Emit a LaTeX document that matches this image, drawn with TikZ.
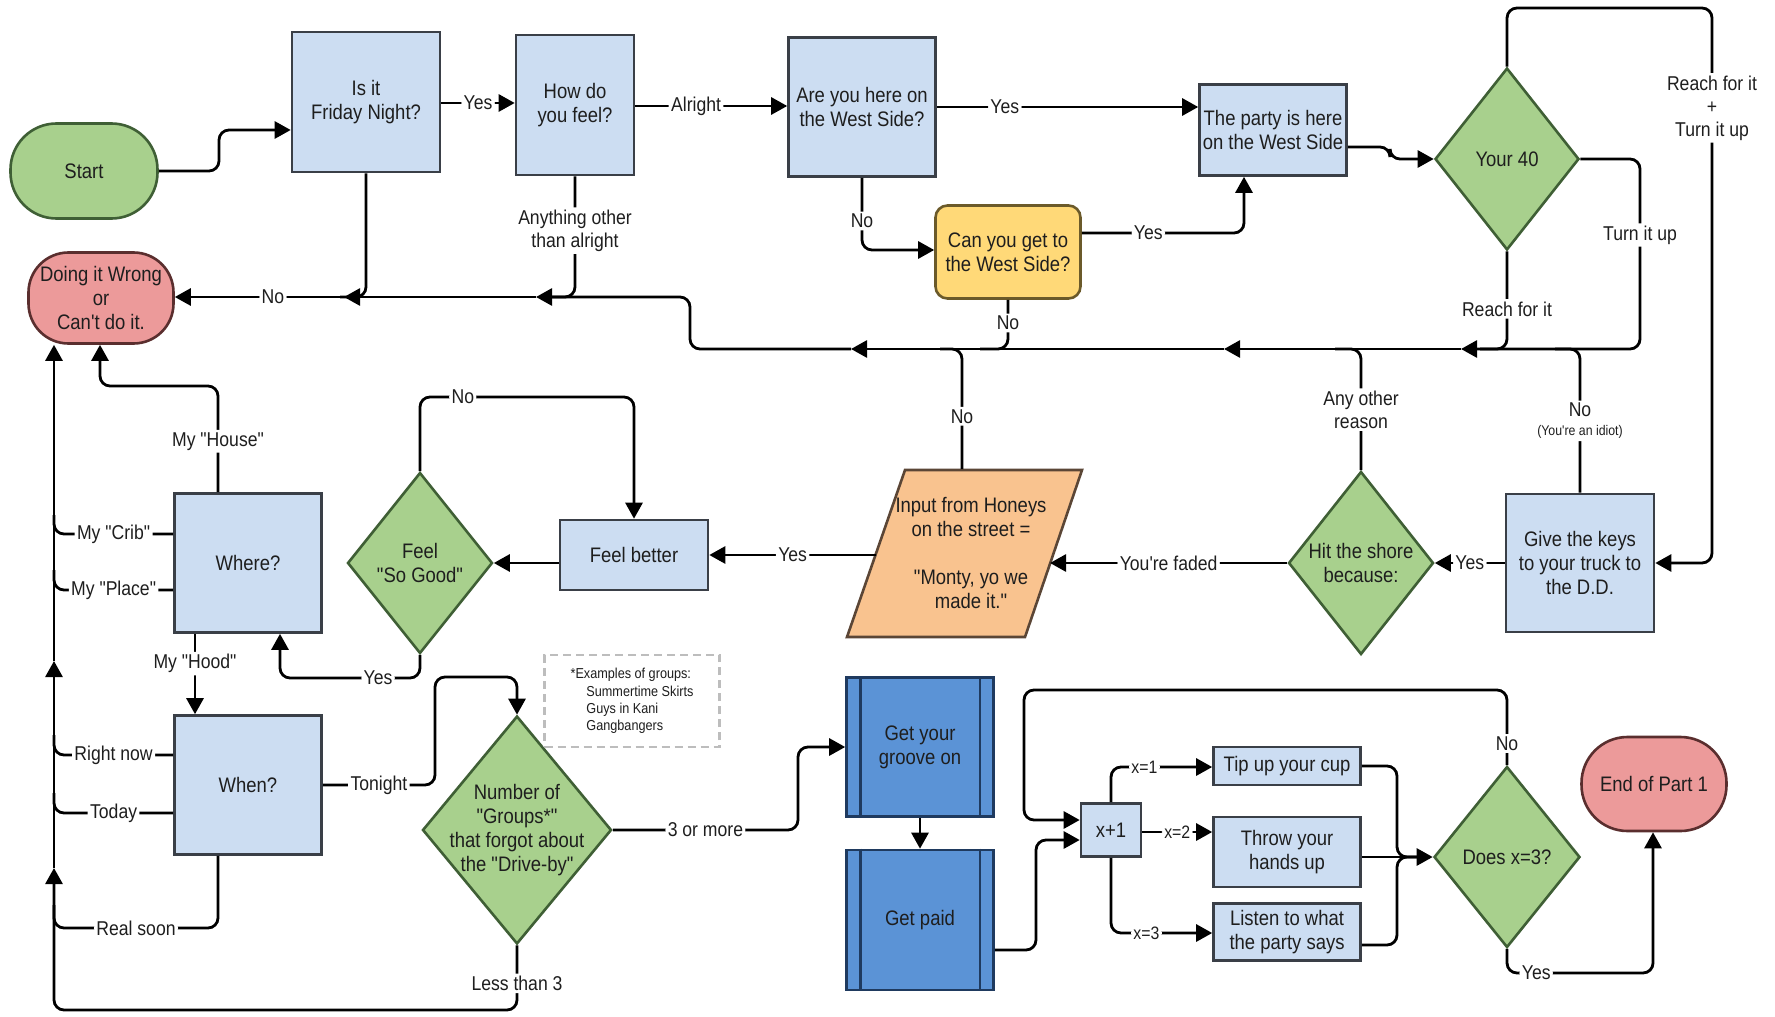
\documentclass[tikz,border=0pt]{standalone}
\usepackage{fontspec}
\setmainfont{Liberation Sans}[Ligatures=TeXOff,FakeStretch=0.88]
\usetikzlibrary{shapes.geometric,arrows.meta,calc}
\definecolor{txt}{HTML}{1E1E1E}
\definecolor{lblue}{HTML}{CCDDF2}
\definecolor{bord}{HTML}{3A3F47}
\definecolor{gfill}{HTML}{A8D08D}
\definecolor{gbord}{HTML}{3F5F35}
\definecolor{rfill}{HTML}{EC9A9A}
\definecolor{rbord}{HTML}{5A2E2E}
\definecolor{yfill}{HTML}{FFD978}
\definecolor{ybord}{HTML}{6B5A2A}
\definecolor{ofill}{HTML}{F9C38F}
\definecolor{obord}{HTML}{5B4636}
\definecolor{dblue}{HTML}{5B93D6}
\definecolor{dbord}{HTML}{1F3A5F}
\definecolor{dashgray}{HTML}{BDBDBD}
\begin{document}
\begin{tikzpicture}[x=0.5pt,y=-0.5pt,
  every node/.style={font=\fontsize{10.5}{12}\selectfont, text=txt},
  box/.style={draw=bord, fill=lblue, line width=1.3pt, align=center, inner sep=1pt},
  dia/.style={shape=diamond, draw=gbord, fill=gfill, line width=1.3pt, inner sep=0pt},
  dtxt/.style={align=center},
  con/.style={line width=1.4pt, rounded corners=5pt, draw=black},
  arr/.style={con, -{Triangle[length=8pt,width=8.5pt]}},
  lbl/.style={fill=white, inner sep=1.2pt, font=\fontsize{10}{11.5}\selectfont},
  slbl/.style={fill=white, inner sep=1.2pt, font=\fontsize{9}{10.5}\selectfont},
]
\useasboundingbox (0,0) rectangle (1775,1016);
\fill[white] (0,0) rectangle (1775,1016);

% ---------- nodes ----------
\node[box, rounded corners=23pt, draw=gbord, fill=gfill, minimum width=73.5pt, minimum height=47.5pt] (start) at (84,171) {Start};
\node[box, minimum width=74pt, minimum height=70pt] (friday) at (366,102) {Is it\\Friday Night?};
\node[box, minimum width=59pt, minimum height=70pt] (how) at (575,105) {How do\\you feel?};
\node[box, minimum width=73.5pt, minimum height=69.5pt] (areyou) at (862,107) {Are you here on\\the West Side?};
\node[box, minimum width=73.5pt, minimum height=45.5pt] (party) at (1273,130) {The party is here\\on the West Side};
\node[dia, minimum width=72pt, minimum height=91pt] (your40) at (1507,159) {};
\node[dtxt] (your40t) at (your40) {Your 40};
\node[box, rounded corners=6pt, fill=yfill, draw=ybord, minimum width=72.5pt, minimum height=46.5pt] (canyou) at (1008,252) {Can you get to\\the West Side?};
\node[box, rounded corners=20pt, fill=rfill, draw=rbord, minimum width=72.5pt, minimum height=45.5pt] (wrong) at (101,298) {Doing it Wrong\\or\\Can't do it.};

\node[box, minimum width=74pt, minimum height=35pt] (feelbetter) at (634,555) {Feel better};
\node[dia, minimum width=72.5pt, minimum height=90.5pt] (feelgood) at (420,563) {};
\node[dtxt] (feelgoodt) at (feelgood) {Feel\\"So Good"};
\node[box, minimum width=73.5pt, minimum height=69.5pt] (where) at (248,563) {Where?};
\node[box, minimum width=73.5pt, minimum height=69.5pt] (when) at (248,785) {When?};

\draw[fill=ofill, draw=obord, line width=1.3pt] (905,470) -- (1082,470) -- (1025,637) -- (847,637) -- cycle;
\node[align=center, minimum width=70pt, minimum height=83.5pt, inner sep=0pt] (input) at (971,553) {Input from Honeys\\on the street =\\[12pt]"Monty, yo we\\made it."};
\coordinate (inL) at (876,555);
\coordinate (inR) at (1050,563);

\node[dia, minimum width=72.5pt, minimum height=91.5pt] (hitshore) at (1361,563) {};
\node[dtxt] (hitshoret) at (hitshore) {Hit the shore\\because:};
\node[box, minimum width=74pt, minimum height=69pt] (givekeys) at (1580,563) {Give the keys\\to your truck to\\the D.D.};

\node[dia, minimum width=94.5pt, minimum height=114pt] (number) at (517,830) {};
\node[dtxt] (numbert) at (number) {Number of\\"Groups*"\\that forgot about\\the "Drive-by"};
\node[draw=dashgray, dash pattern=on 4pt off 2.5pt, line width=1.2pt, minimum width=87.5pt, minimum height=46pt, align=left, font=\fontsize{7.2}{8.6}\selectfont] (examples) at (632,701) {*Examples of groups:\\\hspace*{1.1em}Summertime Skirts\\\hspace*{1.1em}Guys in Kani\\\hspace*{1.1em}Gangbangers};

\node[box, fill=dblue, draw=dbord, minimum width=73.5pt, minimum height=69.5pt] (groove) at (920,747) {Get your\\groove on};
\node[box, fill=dblue, draw=dbord, minimum width=73.5pt, minimum height=70pt] (paid) at (920,920) {Get paid};
\foreach \n in {groove,paid}{
  \draw[draw=dbord, line width=1.3pt] ([xshift=7.5pt]\n.north west) -- ([xshift=7.5pt]\n.south west);
  \draw[draw=dbord, line width=1.3pt] ([xshift=-7.5pt]\n.north east) -- ([xshift=-7.5pt]\n.south east);
}
\node[box, minimum width=30pt, minimum height=26.5pt] (xplus) at (1111,830) {x+1};
\node[box, minimum width=73.5pt, minimum height=19pt] (tip) at (1287,766) {Tip up your cup};
\node[box, minimum width=73.5pt, minimum height=35pt] (throw) at (1287,852) {Throw your\\hands up};
\node[box, minimum width=73.5pt, minimum height=28.5pt] (listen) at (1287,932) {Listen to what\\the party says};
\node[dia, minimum width=73pt, minimum height=90.5pt] (doesx) at (1507,857) {};
\node[dtxt] (doesxt) at (doesx) {Does x=3?};
\node[box, rounded corners=23pt, fill=rfill, draw=rbord, minimum width=72.5pt, minimum height=47pt] (endp) at (1654,784) {End of Part 1};

% ---------- connectors: top row ----------
\draw[arr] (start.east) -- (219,171) -- (219,130) -- (friday.west |- 0,130);
\draw[arr] (friday.east |- 0,103) -- node[lbl]{Yes} (how.west |- 0,103);
\draw[arr] (how.east |- 0,106) -- node[lbl,pos=0.4]{Alright} (areyou.west |- 0,106);
\draw[arr] (areyou.east |- 0,107) -- node[lbl,pos=0.26]{Yes} (party.west |- 0,107);
\draw[arr] (areyou.south) -- node[lbl,pos=0.6]{No} (862,250) -- (canyou.west |- 0,250);
\draw[arr] (canyou.east |- 0,233) -- node[lbl,pos=0.41]{Yes} (1244,233) -- (party.south -| 1244,0);
\draw[arr] (party.east |- 0,147) -- (1390,147) -- (1390,159) -- (your40.west);
\draw[arr] (your40.north) -- (1507,8) -- (1712,8) -- node[lbl,pos=0.18,align=center]{Reach for it\\+\\Turn it up} (1712,563) -- (givekeys.east |- 0,563);

% ---------- main return line ----------
\draw[arr] (your40.east) -- (1640,159) -- node[lbl,pos=0.4]{Turn it up} (1640,349) -- (1461,349);
\draw[arr] (1461,349) -- (1224,349);
\draw[arr] (1224,349) -- (851,349);
\draw[arr] (851,349) -- (690,349) -- (690,297) -- (536,297);
\draw[arr] (536,297) -- (344,297);
\draw[arr] (344,297) -- node[lbl,pos=0.42]{No} (wrong.east |- 0,297);
\draw[con] (your40.south) -- node[lbl,pos=0.59]{Reach for it} (1507,349) -- (1480,349);
\draw[con] (canyou.south) -- node[lbl,pos=0.47]{No} (canyou.south |- 0,349) -- (980,349);
\draw[con] (input.north -| 962,0) -- node[lbl,pos=0.44]{No} (962,349) -- (940,349);
\draw[con] (hitshore.north) -- node[lbl,pos=0.5,align=center]{Any other\\reason} (1361,349) -- (1335,349);
\draw[con] (givekeys.north) -- node[lbl,pos=0.5,align=center]{No\\[-2pt]{\fontsize{7}{8}\selectfont(You're an idiot)}} (1580,349) -- (1555,349);
\draw[con] (friday.south) -- (366,297) -- (340,297);
\draw[con] (how.south) -- node[lbl,pos=0.45,align=center]{Anything other\\than alright} (575,297) -- (550,297);

% ---------- middle row ----------
\draw[arr] (givekeys.west) -- node[lbl]{Yes} (hitshore.east);
\draw[arr] (hitshore.west) -- node[lbl]{You're faded} (inR);
\draw[arr] (inL) -- node[lbl]{Yes} (feelbetter.east |- inL);
\draw[arr] (feelbetter.west |- feelgood.east) -- (feelgood.east);
\draw[arr] (feelgood.north) -- (420,397) -- node[lbl,pos=0.2]{No} (634,397) -- (feelbetter.north);
\draw[arr] (feelgood.south) -- (420,678) -- node[lbl,pos=0.3]{Yes} (280,678) -- (where.south -| 280,0);
\draw[arr] (where.north -| 218,0) -- node[lbl,pos=0.48]{My "House"} (218,386) -- (100,386) -- (wrong.south -| 100,0);
\draw[con] (where.west |- 0,534) -- node[lbl]{My "Crib"} (54,534) -- (54,515);
\draw[con] (where.west |- 0,590) -- node[lbl]{My "Place"} (54,590) -- (54,570);
\draw[arr] (where.south -| 195,0) -- node[lbl,pos=0.37]{My "Hood"} (when.north -| 195,0);
\draw[con] (when.west |- 0,755) -- node[lbl]{Right now} (54,755) -- (54,735);
\draw[con] (when.west |- 0,813) -- node[lbl]{Today} (54,813) -- (54,793);
\draw[con] (when.south -| 218,0) -- (218,928) -- node[lbl]{Real soon} (54,928) -- (54,905);

% ---------- trunk ----------
\draw[arr] (number.south) -- node[lbl,pos=0.59]{Less than 3} (517,1010) -- (54,1010) -- (54,868);
\draw[arr] (54,868) -- (54,661);
\draw[arr] (54,661) -- (wrong.south -| 54,0);

% ---------- bottom row ----------
\draw[arr] (when.east |- 0,785) -- node[lbl]{Tonight} (435,785) -- (435,677) -- (517,677) -- (number.north);
\draw[arr] (number.east) -- node[lbl]{3 or more} (798,830) -- (798,747) -- (groove.west);
\draw[arr] (groove.south) -- (paid.north);
\draw[arr] (paid.east |- 0,950) -- (1036,950) -- (1036,840) -- (xplus.west |- 0,840);
\draw[arr] (doesx.north) -- node[lbl,pos=0.29]{No} (1507,690) -- (1024,690) -- (1024,820) -- (xplus.west |- 0,820);
\draw[arr] (xplus.north -| 1111,0) -- (1111,767) -- node[slbl,pos=0.33]{x=1} (tip.west |- 0,767);
\draw[arr] (xplus.east |- 0,832) -- node[slbl]{x=2} (throw.west |- 0,832);
\draw[arr] (xplus.south -| 1111,0) -- (1111,933) -- node[slbl,pos=0.35]{x=3} (listen.west |- 0,933);
\draw[con] (tip.east) -- (1397,766) -- (1397,857) -- (1420,857);
\draw[con] (listen.east |- 0,945) -- (1397,945) -- (1397,857) -- (1420,857);
\draw[arr] (throw.east |- 0,857) -- (doesx.west);
\draw[arr] (doesx.south) -- (1507,973) -- node[lbl,pos=0.2]{Yes} (1653,973) -- (endp.south -| 1653,0);
\end{tikzpicture}
\end{document}
